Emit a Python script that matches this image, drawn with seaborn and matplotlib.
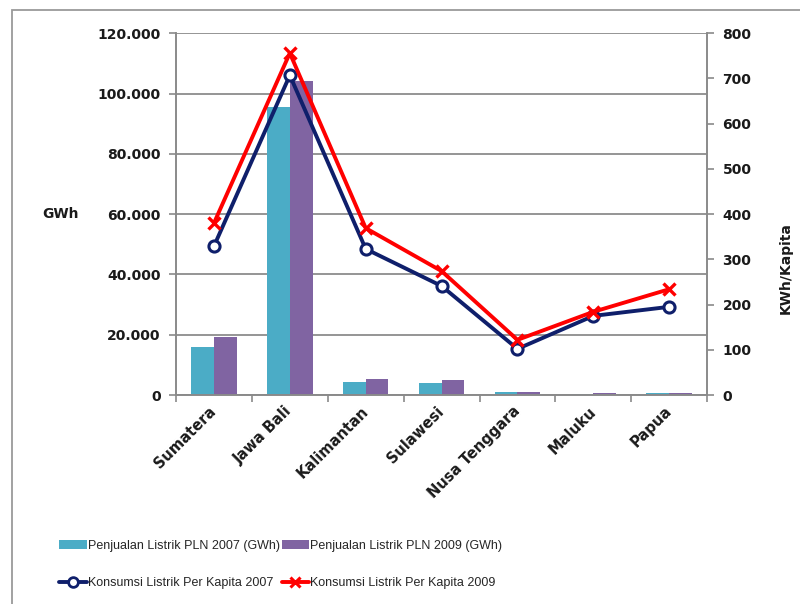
import matplotlib
matplotlib.use("Agg")
import matplotlib.pyplot as plt
from matplotlib.patches import Rectangle, Patch
from matplotlib.lines import Line2D
from matplotlib.ticker import FuncFormatter, FixedLocator
import seaborn as sns
import pandas as pd
import numpy as np

regions = ["Sumatera", "Jawa Bali", "Kalimantan", "Sulawesi", "Nusa Tenggara", "Maluku", "Papua"]
sales_2007 = [15900, 95500, 4300, 4000, 1000, 500, 700]
sales_2009 = [19200, 104100, 5300, 5000, 1100, 600, 800]
percap_2007 = [329, 707, 323, 241, 102, 175, 195]
percap_2009 = [380, 756, 369, 274, 122, 184, 234]
left_ticks = [0, 20000, 40000, 60000, 80000, 100000, 120000]
right_ticks = [0, 100, 200, 300, 400, 500, 600, 700, 800]

lbl_bar07 = "Penjualan Listrik PLN 2007 (GWh)"
lbl_bar09 = "Penjualan Listrik PLN 2009 (GWh)"
lbl_line07 = "Konsumsi Listrik Per Kapita 2007"
lbl_line09 = "Konsumsi Listrik Per Kapita 2009"

c_bar07 = "#4BACC6"
c_bar09 = "#8064A2"
c_line07 = "#0F1F6B"
c_line09 = "#FF0000"
grid_c = "#8C8C8C"

sns.set_theme(style="white")
plt.rcParams["font.family"] = ["DejaVu Sans"]

bars = pd.DataFrame({
    "region": regions * 2,
    "value": sales_2007 + sales_2009,
    "series": [lbl_bar07] * len(regions) + [lbl_bar09] * len(regions),
})
lines07 = pd.DataFrame({"region": regions, "value": percap_2007})
lines09 = pd.DataFrame({"region": regions, "value": percap_2009})

fig = plt.figure(figsize=(8.0, 6.04), dpi=100)
fig.patch.set_facecolor("white")
ax = fig.add_axes([0.22, 0.346, 0.664, 0.599])

sns.barplot(data=bars, x="region", y="value", hue="series", order=regions,
            palette=[c_bar07, c_bar09], width=0.6, saturation=1, ax=ax,
            legend=False, errorbar=None, linewidth=0, edgecolor="none")

ax2 = ax.twinx()
sns.pointplot(data=lines07, x="region", y="value", order=regions, ax=ax2,
              color=c_line07, marker="o", markersize=8, markerfacecolor="white",
              markeredgecolor=c_line07, markeredgewidth=2.2, linewidth=2.8,
              errorbar=None, zorder=3)
sns.pointplot(data=lines09, x="region", y="value", order=regions, ax=ax2,
              color=c_line09, marker="x", markersize=8, markeredgewidth=2.4,
              linewidth=2.8, errorbar=None, zorder=4)

# Axis ranges
ax.set_xlim(-0.5, len(regions) - 0.5)
ax2.set_xlim(-0.5, len(regions) - 0.5)
ax.set_ylim(left_ticks[0], left_ticks[-1])
ax2.set_ylim(right_ticks[0], right_ticks[-1])
ax.set_yticks(left_ticks)
ax2.set_yticks(right_ticks)
ax.yaxis.set_major_formatter(FuncFormatter(lambda v, p: f"{int(v):,}".replace(",", ".")))

# grid
ax.yaxis.grid(True, color=grid_c, linewidth=1.3)
ax.xaxis.grid(False)
ax2.grid(False)
ax.set_axisbelow(True)

for a in (ax, ax2):
    for s in a.spines.values():
        s.set_color("#8A8A8A")
        s.set_linewidth(1.2)
    a.spines["top"].set_visible(False)

ax.set_xlabel("")
ax2.set_xlabel("")

# x ticks
ax.set_xticks(range(len(regions)))
ax.set_xticklabels(regions, rotation=45, ha="right", va="center",
                   rotation_mode="anchor", fontweight="bold", fontsize=10.5)
ax.xaxis.set_minor_locator(FixedLocator(np.arange(-0.5, len(regions), 1.0)))
ax.tick_params(axis="x", which="major", length=0, pad=10)
ax.tick_params(axis="x", which="minor", length=5, width=1.2, color="#8A8A8A", bottom=True)
ax2.tick_params(axis="x", which="both", length=0, labelbottom=False)

ax.tick_params(axis="y", which="major", left=True, length=5, width=1.2, color="#8A8A8A",
               labelsize=10, pad=6)
ax2.tick_params(axis="y", which="major", right=True, length=5, width=1.2, color="#8A8A8A",
                labelsize=10, pad=6)
for t in ax.get_yticklabels() + ax2.get_yticklabels():
    t.set_fontweight("bold")
    t.set_color("#1a1a1a")
for t in ax.get_xticklabels():
    t.set_color("#1a1a1a")

ax.set_ylabel("GWh", rotation=0, fontweight="bold", fontsize=10, color="#1a1a1a",
              ha="center", va="center")
ax.yaxis.set_label_coords(-0.217, 0.5)
ax2.set_ylabel("KWh/Kapita", rotation=90, fontweight="bold", fontsize=10, color="#1a1a1a",
               ha="center", va="center")
ax2.yaxis.set_label_coords(1.147, 0.35)

# legend
handles = [
    Patch(facecolor=c_bar07, edgecolor="none"),
    Line2D([], [], color=c_line07, lw=2.8, marker="o", markersize=7,
           markerfacecolor="white", markeredgecolor=c_line07, markeredgewidth=2),
    Patch(facecolor=c_bar09, edgecolor="none"),
    Line2D([], [], color=c_line09, lw=2.8, marker="x", markersize=7, markeredgewidth=2.2),
]
labels = [lbl_bar07, lbl_line07, lbl_bar09, lbl_line09]
fig.legend(handles, labels, loc="upper left", bbox_to_anchor=(59 / 800, 1 - 540 / 604),
           ncol=2, frameon=False, borderaxespad=0, borderpad=0,
           handlelength=2.2, handletextpad=0.1, columnspacing=0.15, labelspacing=2.0,
           prop={"family": ["Liberation Sans"], "size": 9})

# outer chart border
fig.add_artist(Rectangle((12 / 800, -0.1), 1.0, 1 - 10 / 604 + 0.1,
                         transform=fig.transFigure, fill=False,
                         edgecolor="#9A9A9A", linewidth=1.3))

fig.savefig("out.png", dpi=100, facecolor="white")
